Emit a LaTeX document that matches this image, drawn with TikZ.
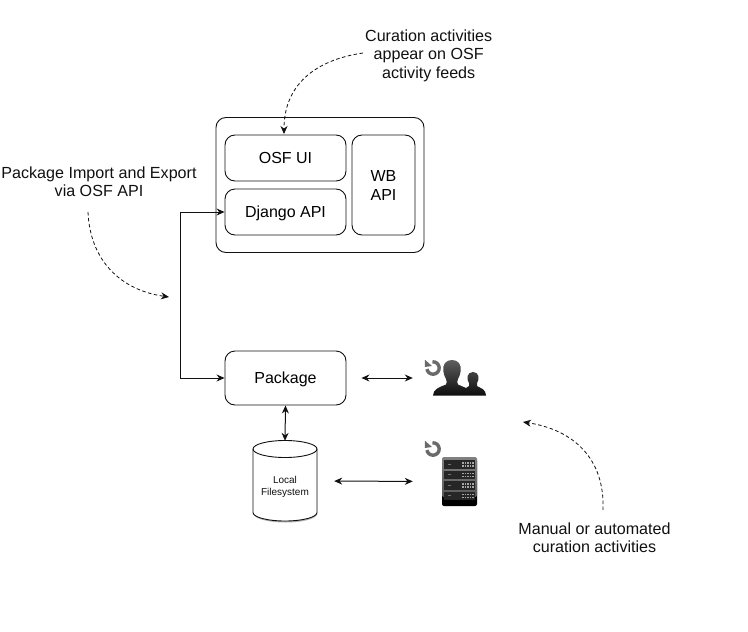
\documentclass[tikz,border=0pt]{standalone}
\usepackage{fontspec}
\setmainfont{Liberation Sans}
\usetikzlibrary{arrows.meta,calc}
\definecolor{ink}{HTML}{111111}
\definecolor{refreshgrey}{HTML}{6A6A6A}
\tikzset{
  box/.style={draw=ink,line width=0.9pt,rounded corners=10pt,font=\fontsize{16}{18.8}\selectfont,align=center,inner sep=0pt,text height=11.5pt,text depth=0pt},
  label/.style={font=\fontsize{16.1}{18.4}\selectfont,align=center,text=ink,inner sep=0pt},
  biarrow/.style={draw=ink,line width=1pt,{Stealth[length=8pt,width=7pt]}-{Stealth[length=8pt,width=7pt]}},
  curve/.style={draw=ink,line width=0.8pt,dash pattern=on 3.5pt off 2.5pt,-{Stealth[length=8pt,width=7pt]}},
  iconspot/.style={inner sep=0pt,minimum width=#1},
  refresh/.pic={
    \draw[refreshgrey,line width=3.4pt] (-95:6.2) arc[start angle=-95,end angle=170,radius=6.2];
    \fill[refreshgrey] (-8,-8.2) -- (-8.2,-1) -- (-1,-2) -- cycle;
  }
}
\begin{document}
\begin{tikzpicture}[x=1pt,y=-1pt]
\useasboundingbox[fill=white] (0,0) rectangle (748,632);

% containers
\node[box,minimum width=208pt,minimum height=135pt] (outer) at (320,185) {};
\node[box,minimum width=121pt,minimum height=46pt] (osf) at (285.5,158) {OSF UI};
\node[box,minimum width=121pt,minimum height=46pt] (django) at (285.5,212) {Django API};
\node[box,minimum width=63pt,minimum height=100pt,text height=30pt] (wb) at (383.5,185) {WB\\API};
\node[box,minimum width=121pt,minimum height=54pt] (pack) at (285.5,378) {Package};

% cylinder
\fill[black!30] (254,448) -- (254,514) arc[start angle=180,end angle=0,x radius=31.5,y radius=8.5] -- (317,448) -- cycle;
\filldraw[fill=white,draw=ink,line width=0.9pt] (253,449) -- (253,512.5) arc[start angle=180,end angle=0,x radius=32,y radius=8.5] -- (317,449) arc[start angle=0,end angle=-180,x radius=32,y radius=8.5] -- cycle;
\draw[ink,line width=0.9pt] (253,449) arc[start angle=180,end angle=0,x radius=32,y radius=8.5];
\node[font=\fontsize{10}{11.7}\selectfont,align=center,text=ink,inner sep=0pt,minimum width=64pt,minimum height=80pt,text height=29pt,text depth=0pt] (cyl) at (285,481) {Local\\Filesystem};

% people icon
\node[iconspot=54pt,minimum height=40pt] (people) at (459,376) {};
\shade[top color=black!62,bottom color=black!95]
  (433,395.5) .. controls (433,389) and (440,387) .. (446,384.5)
  .. controls (447,383) and (447,381) .. (446,379)
  .. controls (443,374) and (442,367) .. (445,363)
  .. controls (448,359) and (456,359) .. (459,363)
  .. controls (462,367) and (461,374) .. (458,379)
  .. controls (457,381) and (457,383) .. (458,384.5)
  .. controls (461,386) and (464,387) .. (466,388)
  -- (469,386)
  .. controls (469.5,385) and (469.5,384) .. (469,383)
  .. controls (466,379) and (467,372) .. (473,372)
  .. controls (479,372) and (480,379) .. (477,383)
  .. controls (476.5,384) and (476.5,385) .. (477,386)
  .. controls (480,388) and (486,389) .. (486,395.5) -- cycle;
\pic at (433,368) {refresh};

% server icon
\node[iconspot=35pt,minimum height=50pt] (server) at (459.5,481.5) {};
\fill[black,rounded corners=2pt] (442,459) rectangle (477,506);
\shade[top color=black!50,bottom color=black!65,rounded corners=1.5pt] (442,457) rectangle (477,497);
\foreach \y in {460,470.5,481,491.5}{
  \fill[black!85] (444,\y) rectangle (475,\y+8.5);
  \fill[black!55] (448,\y+3.8) rectangle (451,\y+4.8);
  \foreach \dx in {462,464.5,467,469.5,472}{
    \fill[black!35] (\dx,\y+2) rectangle (\dx+1.5,\y+3.6);
    \fill[black!35] (\dx,\y+5) rectangle (\dx+1.5,\y+6.6);
  }
}
\pic at (433,449) {refresh};

% texts
\node[label] (t1) at (428.7,55.5) {Curation activities\\appear on OSF\\activity feeds};
\node[label] (t2) at (99,182) {Package Import and Export\\via OSF API};
\node[label] (t3) at (594.5,538) {Manual or automated\\curation activities};

% free ends of the curves
\coordinate (c1s) at (363,53);
\coordinate (c2s) at (88,212);
\coordinate (c2e) at (169,297);
\coordinate (c3s) at (603,510);
\coordinate (c3e) at (523,422);
\coordinate (bend) at (180.5,378);
\coordinate (bendtop) at (180.5,212);

% connectors
\draw[biarrow] (django.west) -- (bendtop) -- (bend) -- (pack.west);
\draw[biarrow,shorten <=15pt,shorten >=19pt] (pack.east) -- (people.west |- pack.east);
\draw[biarrow] (pack.south) -- (cyl.north);
\draw[biarrow,shorten <=17pt,shorten >=29pt] (cyl.east) -- (server.west);
\draw[curve] (c1s) .. controls (315,60) and (284,85) .. (284,134);
\draw[curve] (c2s) .. controls (90,260) and (120,290) .. (c2e);
\draw[curve] (c3s) .. controls (605,460) and (575,430) .. (c3e);
\end{tikzpicture}
\end{document}
